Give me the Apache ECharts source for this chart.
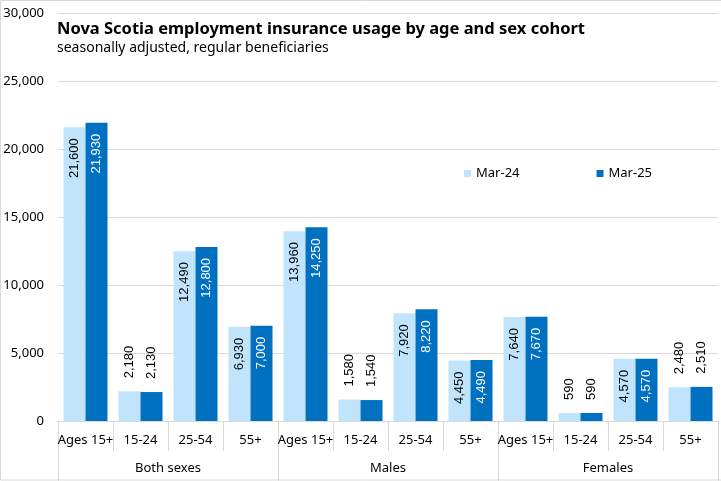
<!DOCTYPE html>
<html><head><meta charset="utf-8">
<script src="https://cdn.jsdelivr.net/npm/echarts@6/dist/echarts.min.js"></script>
<style>html,body{margin:0;padding:0;background:#fff}#c{width:721px;height:481px}</style>
</head><body><div id="c"></div>
<script>
const ageLabels = ['Ages 15+','15-24','25-54','55+','Ages 15+','15-24','25-54','55+','Ages 15+','15-24','25-54','55+'];
const groupLabels = ['Both sexes','Males','Females'];
const seriesNames = ['Mar-24','Mar-25'];
const mar24 = [21600,2180,12490,6930,13960,1580,7920,4450,7640,590,4570,2480];
const mar25 = [21930,2130,12800,7000,14250,1540,8220,4490,7670,590,4570,2510];
const yTicks = {min:0,max:30000,interval:5000};

const FONT = 'Noto Sans';
const fmt = v => v.toLocaleString('en-US');
function items(vals, insideColor){
  return vals.map(v => {
    const inside = v >= 4000;
    return {value:v, label: inside ?
      {show:true, position:'insideTop', rotate:90, align:'right', verticalAlign:'middle', distance:11, color:insideColor} :
      {show:true, position:'top', rotate:90, align:'left', verticalAlign:'middle', distance:13, color:'#000'}};
  });
}
const chart = echarts.init(document.getElementById('c'));
chart.setOption({
  animation:false,
  graphic:[{type:'rect', silent:true, z:-1, shape:{x:0.5, y:0.5, width:722, height:479.5},
    style:{fill:'none', stroke:'#d9d9d9', lineWidth:1}}],
  title:{text:'Nova Scotia employment insurance usage by age and sex cohort', subtext:'seasonally adjusted, regular beneficiaries',
    left:57, top:21, itemGap:3, padding:0,
    textStyle:{fontFamily:FONT, fontSize:16.5, fontWeight:'bold', color:'#000'},
    subtextStyle:{fontFamily:FONT, fontSize:14, color:'#000'}},
  legend:{data:seriesNames, left:459, top:162, itemWidth:7, itemHeight:7, itemGap:77, icon:'rect',
    textStyle:{fontFamily:FONT, fontSize:13, color:'#000'}},
  grid:{left:58, right:3, top:13, bottom:60},
  xAxis:[
    {type:'category', data:ageLabels, axisLine:{show:true, lineStyle:{color:'#d9d9d9'}},
     axisTick:{show:true, alignWithLabel:false, interval:0, length:30, lineStyle:{color:'#d9d9d9'}},
     axisLabel:{interval:0, margin:13, fontFamily:FONT, fontSize:13, color:'#000'}},
    {type:'category', data:groupLabels, position:'bottom', offset:30, gridIndex:0,
     axisLine:{show:false},
     axisTick:{show:true, alignWithLabel:false, interval:0, length:30, lineStyle:{color:'#d9d9d9'}},
     axisLabel:{interval:0, margin:11, fontFamily:FONT, fontSize:13, color:'#000'}}
  ],
  yAxis:{type:'value', min:yTicks.min, max:yTicks.max, interval:yTicks.interval,
    axisLine:{show:false}, axisTick:{show:false}, splitLine:{lineStyle:{color:'#d9d9d9'}},
    axisLabel:{margin:14, fontFamily:FONT, fontSize:13, color:'#000', formatter:v=>fmt(v)}},
  series:[
    {name:seriesNames[0], type:'bar', xAxisIndex:0, data:items(mar24,'#000'), barGap:'0%', barCategoryGap:'20%',
     itemStyle:{color:'#C0E4FC'}, label:{fontFamily:'Liberation Sans', fontSize:13, formatter:p=>fmt(p.value)}},
    {name:seriesNames[1], type:'bar', xAxisIndex:0, data:items(mar25,'#fff'), barGap:'0%', barCategoryGap:'20%',
     itemStyle:{color:'#0070C0'}, label:{fontFamily:'Liberation Sans', fontSize:13, formatter:p=>fmt(p.value)}}
  ]
});
</script></body></html>
